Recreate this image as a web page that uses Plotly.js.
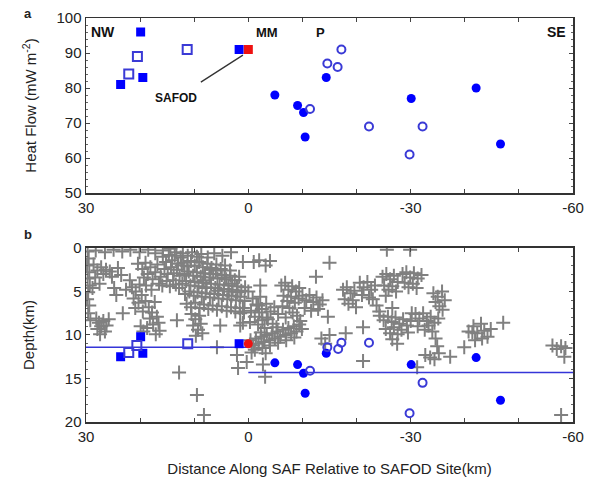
<!DOCTYPE html>
<html><head><meta charset="utf-8">
<script src="https://cdn.plot.ly/plotly-3.0.1.min.js"></script>
<style>body{margin:0;background:#fff}#chart{width:593px;height:480px}</style>
</head><body><div id="chart"></div><script>
// ---- Panel a: heat flow ----
const hfSqSolidX = [19.9, 19.5, 23.6, 1.7];
const hfSqSolidY = [96, 83, 81, 91];
const hfSqOpenX = [11.3, 20.5, 22.1];
const hfSqOpenY = [91, 89, 84];
const hfSafodX = [0];
const hfSafodY = [91];
const hfCircSolidX = [-4.9, -9.1, -10.2, -10.5, -14.4, -30.1, -42.1, -46.6];
const hfCircSolidY = [78, 75, 73, 66, 83, 77, 80, 64];
const hfCircOpenX = [-11.4, -14.6, -16.5, -17.2, -22.3, -32.2, -29.8];
const hfCircOpenY = [74, 87, 86, 91, 69, 69, 61];

// ---- Panel b: depth ----
const dSqSolidX = [19.9, 19.5, 23.6, 1.7];
const dSqSolidY = [10.2, 12.1, 12.5, 11.0];
const dSqOpenX = [20.6, 22.1, 11.2];
const dSqOpenY = [11.2, 12.0, 11.0];
const dSafodX = [0];
const dSafodY = [11.0];
const dCircSolidX = [-4.9, -9.1, -10.2, -10.5, -14.4, -30.1, -42.1, -46.6];
const dCircSolidY = [13.2, 13.4, 14.4, 16.7, 12.1, 13.4, 12.6, 17.5];
const dCircOpenX = [-11.4, -14.6, -16.6, -17.2, -22.3, -32.2, -29.8];
const dCircOpenY = [14.1, 11.4, 11.6, 10.9, 10.9, 15.5, 19.0];
const lineNWX = [30, 0], lineNWY = [11.4, 11.4];
const lineSEX = [0, -60], lineSEY = [14.3, 14.3];

// seismicity (distance km, depth km)
const eqX = [
29.7,29.5,29.8,29.4,29.7,29.3,29.6,29.8,29.4,29.6,29.2,
28.6,27.9,28.3,27.2,26.8,27.5,28.8,26.3,25.6,25.2,24.8,24.4,
28.2,26.5,24.9,23.3,21.8,20.1,18.5,17.2,15.8,14.4,13.3,
28.1,27.6,27.9,27.2,26.8,26.5,27.4,26.2,25.8,
24.1,23.5,23.2,21.9,22.6,
21.5,20.8,21.2,20.3,19.7,20.9,19.5,20.1,
20.4,19.6,19.0,18.6,18.1,17.7,17.2,16.8,16.5,18.9,17.9,16.2,19.3,
19.0,18.4,17.8,18.2,17.3,16.9,17.6,16.4,18.7,17.1,16.6,19.9,19.4,
15.8,15.2,14.7,14.1,13.6,13.0,12.5,15.5,14.9,14.3,13.8,13.2,12.7,15.1,14.5,13.9,13.4,12.8,12.3,15.9,
12.1,11.2,10.4,9.5,8.7,7.5,6.3,4.8,3.2,1.0,
12.0,11.3,10.6,9.9,9.1,8.4,7.6,6.8,5.9,5.1,4.3,3.4,
11.8,11.0,10.2,9.5,8.8,8.0,7.2,6.5,5.7,4.9,4.1,3.3,2.5,1.7,
12.2,11.5,10.7,9.9,9.2,8.5,7.7,6.9,6.1,5.3,4.5,3.7,2.9,2.1,1.3,0.6,
11.7,10.9,10.1,9.4,8.6,7.9,7.1,6.3,5.5,4.7,3.9,3.1,2.3,1.5,0.7,
11.4,10.6,9.8,9.0,8.2,7.4,6.6,5.8,4.9,4.0,3.2,2.4,1.6,0.8,
8.3,7.0,5.6,4.4,3.0,2.0,6.0,7.8,3.6,
0.0,-0.8,-1.5,-0.5,-1.2,-2.0,-2.6,-1.8,-3.0,-0.3,-2.3,-3.4,
10.5,9.8,10.2,9.3,9.7,8.8,8.5,9.1,
5.2,1.5,1.5,1.0,1.0,5.8,1.9,9.5,8.2,12.8,0.3,-2.7,-3.1,2.1,13.2,
-0.4,-0.9,-1.4,-1.9,-2.4,-2.9,-3.4,-3.9,-4.4,-4.9,-5.4,-5.9,-6.4,-6.9,-7.4,-7.9,-8.4,-8.9,-9.4,-9.9,-1.2,-2.6,-4.0,-5.5,-7.0,-8.5,-0.6,-3.2,
-1.8,-2.5,-3.3,-4.1,-4.8,-5.5,-3.6,-4.5,-5.2,-2.2,
-6.1,-6.8,-7.4,-8.1,-8.8,-9.4,-6.5,-7.2,-7.9,-8.6,-9.3,-6.3,-7.6,-8.2,-9.0,-6.9,-9.6,
-10.0,-10.7,-11.3,-12.0,-12.6,-13.2,-10.4,-11.6,-12.9,-13.7,
-12.5,-15.0,-14.7,-15.0,-13.5,-14.2,-1.0,-2.0,-3.2,-4.0,-2.2,
-17.5,-18.2,-18.9,-19.6,-17.8,-18.5,-19.3,-19.9,-18.0,
-20.6,-21.3,-22.0,-22.7,-23.4,-21.0,-22.3,-21.2,-21.2,
-23.0,-23.7,-24.2,
-24.8,-25.5,-26.2,-26.9,-27.6,-25.1,-25.9,-26.6,-27.3,-25.4,-26.6,
-28.5,-29.2,-29.9,-30.6,-31.3,-32.0,-28.9,-29.6,-30.4,-31.1,-29.9,-25.6,
-24.3,-25.0,-25.8,-26.5,-27.2,-27.9,-28.6,-29.3,-30.0,-25.4,-26.2,-26.9,-27.6,-28.3,-29.5,-26.6,-27.5,-30.2,
-30.9,-31.6,-32.3,-33.0,-33.7,-34.4,-35.1,-31.3,-32.6,-34.0,-33.3,
-34.2,-35.0,-35.8,-36.3,-35.3,-34.6,-35.9,
-34.6,-34.9,-35.2,-34.4,-32.7,-33.6,-37.3,-39.9,-41.4,-31.2,
-40.7,-41.6,-42.3,-43.0,-43.6,-44.2,-41.9,-43.2,-44.8,-47.1,
-56.2,-57.0,-57.8,-58.6,-58.4,-57.8
];
const eqD = [
0.4,1.2,2.0,2.8,3.5,4.3,5.1,5.9,6.6,7.5,8.3,
1.9,2.6,3.4,2.2,3.0,4.1,4.6,2.5,2.7,3.3,4.6,5.4,
0.3,0.5,0.2,0.4,0.2,0.5,0.2,0.6,0.3,0.1,0.5,
8.1,8.6,9.3,9.0,8.4,9.6,9.9,8.9,8.2,
2.3,3.1,7.5,3.7,4.8,
4.5,5.0,5.8,6.3,5.4,6.9,7.3,4.2,
1.8,2.4,1.7,3.0,2.2,3.6,2.8,1.9,4.1,4.3,4.8,3.3,3.4,
6.1,6.8,7.4,8.1,6.2,7.9,8.8,9.5,9.2,9.9,8.6,9.0,9.6,
1.0,1.6,0.8,1.4,0.9,1.8,1.1,2.4,3.0,2.2,2.9,2.5,3.2,3.8,4.4,3.7,4.2,4.6,2.0,4.3,
0.6,0.9,0.5,1.0,0.7,1.1,0.6,0.9,0.5,1.6,
1.7,2.1,1.5,2.0,1.6,2.2,1.8,2.3,1.9,2.4,2.0,2.6,
3.0,2.7,3.2,2.8,3.3,2.9,3.4,3.0,3.5,3.1,3.6,3.2,3.7,3.3,
4.1,3.8,4.3,3.9,4.4,4.0,4.5,4.1,4.6,4.2,4.7,4.3,4.8,4.4,4.9,4.5,
5.3,5.0,5.5,5.1,5.6,5.2,5.7,5.3,5.8,5.4,5.9,5.5,6.0,5.6,6.1,
6.4,6.8,6.3,6.9,6.5,7.0,6.6,7.1,6.7,7.2,6.8,7.3,6.9,7.4,
3.7,2.5,4.9,3.4,4.1,5.1,2.6,4.6,5.0,
5.0,5.8,6.5,7.2,7.9,7.4,8.3,8.8,9.2,8.5,9.7,8.0,
7.6,8.2,8.9,9.4,10.1,8.7,9.8,7.8,
8.9,7.5,8.9,6.9,8.6,11.4,13.8,16.9,19.2,14.3,13.1,13.4,14.8,12.3,8.3,
10.6,11.2,10.4,11.0,10.2,10.8,10.0,10.6,9.8,10.4,9.6,10.2,9.4,10.0,9.2,9.8,9.0,9.6,8.8,9.3,11.7,11.5,11.2,10.9,10.6,10.3,12.0,12.1,
6.6,7.0,6.4,7.3,6.8,7.6,8.2,8.7,9.1,5.6,
4.3,4.0,4.8,4.4,5.0,4.6,5.5,6.1,5.6,6.3,5.8,6.7,6.9,7.4,7.8,8.0,8.4,
5.5,6.0,5.4,6.2,5.7,6.5,6.9,7.2,7.0,6.0,
3.3,1.7,7.9,10.0,10.4,11.0,1.6,1.4,2.0,1.5,4.3,
4.8,4.5,5.2,4.9,5.9,6.4,6.0,6.8,9.8,
4.0,4.5,3.9,4.8,4.3,5.4,5.7,9.1,13.0,
5.9,6.6,7.3,
3.3,3.0,3.6,3.2,3.9,4.3,4.8,4.4,5.0,5.5,6.9,
3.0,2.8,3.4,2.9,3.5,3.1,4.0,4.5,4.1,4.6,0.2,0.2,
7.8,8.3,7.9,8.5,8.0,8.7,8.2,8.9,8.4,9.3,9.8,9.1,9.9,9.4,9.7,10.5,11.0,7.5,
7.6,8.1,7.5,8.4,7.9,8.6,8.1,9.0,9.4,9.6,8.9,
5.2,5.6,5.0,6.0,6.7,6.2,7.1,
10.4,11.3,12.1,12.8,12.3,12.6,12.5,11.4,9.7,13.7,
9.6,9.0,9.8,8.7,9.5,10.2,10.6,10.4,9.3,8.6,
11.2,11.6,11.3,11.5,12.5,19.2
];

const xTickVals = [30, 0, -30, -60];
const xTickText = ['30', '0', '-30', '-60'];

const BLUE = '#0000ff', OPEN = '#3a3ad6', RED = '#ee1111', GRAY = '#808080';
const ms = 9;

const traces = [
  {x: hfSqSolidX, y: hfSqSolidY, xaxis:'x', yaxis:'y', mode:'markers', marker:{symbol:'square', size:ms, color:BLUE}},
  {x: hfSqOpenX, y: hfSqOpenY, xaxis:'x', yaxis:'y', mode:'markers', marker:{symbol:'square-open', size:ms, color:OPEN, line:{width:2}}},
  {x: hfSafodX, y: hfSafodY, xaxis:'x', yaxis:'y', mode:'markers', marker:{symbol:'square', size:ms, color:RED}},
  {x: hfCircSolidX, y: hfCircSolidY, xaxis:'x', yaxis:'y', mode:'markers', marker:{symbol:'circle', size:ms, color:BLUE}},
  {x: hfCircOpenX, y: hfCircOpenY, xaxis:'x', yaxis:'y', mode:'markers', marker:{symbol:'circle-open', size:ms-1, color:OPEN, line:{width:2}}},

  {x: eqX, y: eqD, xaxis:'x2', yaxis:'y2', mode:'markers', marker:{symbol:'cross-thin', size:10, color:GRAY, line:{width:2, color:GRAY}}},
  {x: lineNWX, y: lineNWY, xaxis:'x2', yaxis:'y2', mode:'lines', line:{color:'#3535d8', width:1.5}},
  {x: lineSEX, y: lineSEY, xaxis:'x2', yaxis:'y2', mode:'lines', line:{color:'#3535d8', width:1.5}},
  {x: dSqSolidX, y: dSqSolidY, xaxis:'x2', yaxis:'y2', mode:'markers', marker:{symbol:'square', size:ms, color:BLUE}},
  {x: dSqOpenX, y: dSqOpenY, xaxis:'x2', yaxis:'y2', mode:'markers', marker:{symbol:'square-open', size:ms, color:OPEN, line:{width:2}}},
  {x: dSafodX, y: dSafodY, xaxis:'x2', yaxis:'y2', mode:'markers', marker:{symbol:'circle', size:ms, color:RED}},
  {x: dCircSolidX, y: dCircSolidY, xaxis:'x2', yaxis:'y2', mode:'markers', marker:{symbol:'circle', size:ms, color:BLUE}},
  {x: dCircOpenX, y: dCircOpenY, xaxis:'x2', yaxis:'y2', mode:'markers', marker:{symbol:'circle-open', size:ms-1, color:OPEN, line:{width:2}}}
];

const FONT = 'Liberation Sans, Arial, sans-serif';
const axBase = {showline:true, linecolor:'#333', linewidth:1.5, mirror:'ticks', ticks:'inside', ticklen:4, tickcolor:'#444', showgrid:false, zeroline:false, tickfont:{size:15, color:'#222', family:FONT}};
const xMinor = {ticks:'inside', ticklen:4, dtick:10, tickcolor:'#444', showgrid:false};

const layout = {
  width:593, height:480, showlegend:false,
  paper_bgcolor:'#fff', plot_bgcolor:'#fff',
  margin:{l:86, r:20, t:18, b:58},
  font:{family:FONT, color:'#222'},
  xaxis: Object.assign({}, axBase, {anchor:'y', range:[30,-60], tickmode:'array', tickvals:xTickVals, ticktext:xTickText, minor:xMinor}),
  yaxis: Object.assign({}, axBase, {domain:[0.5668,1], range:[50,100], dtick:10, anchor:'x',
    minor:{ticks:'inside', ticklen:2, dtick:2, tickcolor:'#666'},
    title:{text:'Heat Flow (mW m<sup>-2</sup>)', font:{size:15, family:FONT, color:'#222'}, standoff:16}}),
  xaxis2: Object.assign({}, axBase, {anchor:'y2', range:[30,-60], tickmode:'array', tickvals:xTickVals, ticktext:xTickText, minor:xMinor,
    title:{text:'Distance Along SAF Relative to SAFOD Site(km)', font:{size:15, family:FONT, color:'#222'}, standoff:20}}),
  yaxis2: Object.assign({}, axBase, {domain:[0,0.4307], range:[20,0], dtick:5, anchor:'x2',
    minor:{ticks:'inside', ticklen:2, dtick:1, tickcolor:'#666'},
    title:{text:'Depth(km)', font:{size:15, family:FONT, color:'#222'}, standoff:26}}),
  annotations:[
    {xref:'paper', yref:'paper', x:-0.119, y:1.012, xanchor:'center', yanchor:'middle', text:'<b>a</b>', showarrow:false, font:{size:13}},
    {xref:'paper', yref:'paper', x:-0.119, y:0.463, xanchor:'center', yanchor:'middle', text:'<b>b</b>', showarrow:false, font:{size:13}},
    {xref:'x', yref:'y', x:26.9, y:96, text:'<b>NW</b>', showarrow:false, font:{size:14, color:'#111'}},
    {xref:'x', yref:'y', x:-3.5, y:96, text:'<b>MM</b>', showarrow:false, font:{size:13, color:'#111'}},
    {xref:'x', yref:'y', x:-13.3, y:96, text:'<b>P</b>', showarrow:false, font:{size:13, color:'#111'}},
    {xref:'x', yref:'y', x:-57.0, y:96, text:'<b>SE</b>', showarrow:false, font:{size:14, color:'#111'}},
    {xref:'x', yref:'y', x:1.0, y:89.4, axref:'x', ayref:'y', ax:13.4, ay:77.1, text:'<b>SAFOD</b>', showarrow:true, arrowhead:0, arrowwidth:1.3, arrowcolor:'#333', startstandoff:14, font:{size:12, color:'#111'}}
  ]
};

Plotly.newPlot('chart', traces, layout, {staticPlot:true, displayModeBar:false});
</script></body></html>
